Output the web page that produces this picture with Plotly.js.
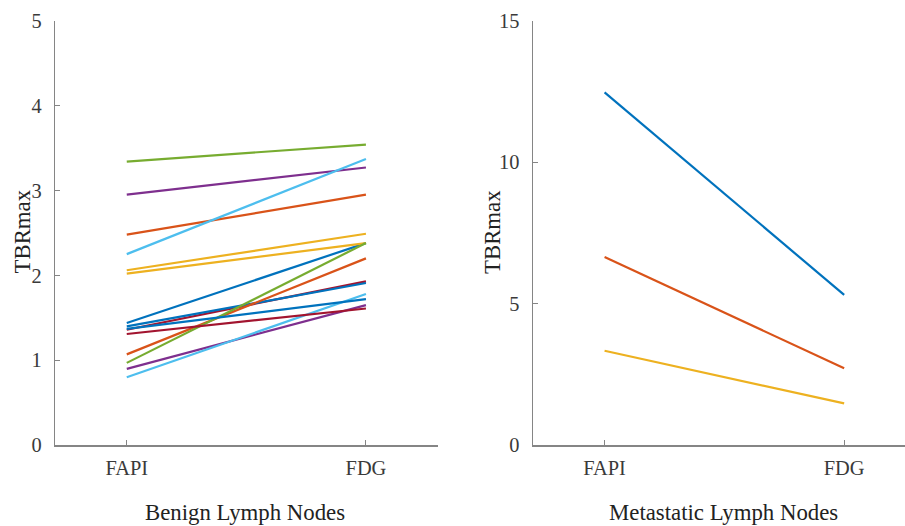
<!DOCTYPE html>
<html>
<head>
<meta charset="utf-8">
<script src="https://cdn.plot.ly/plotly-3.0.1.min.js"></script>
<style>
html,body{margin:0;padding:0;background:#fff;overflow:hidden;}
#chart{width:905px;height:526px;}
</style>
</head>
<body>
<div id="chart"></div>
<script>
const categories = ['FAPI', 'FDG'];
const categoryPos = [1, 2];

// Benign lymph nodes (15 pairs), in plotting order
const benignFAPI = [1.44, 2.48, 2.06, 2.95, 3.34, 2.25, 1.36, 1.40, 1.07, 2.02, 0.90, 0.97, 0.80, 1.31, 1.37];
const benignFDG  = [2.38, 2.95, 2.49, 3.27, 3.54, 3.37, 1.93, 1.91, 2.20, 2.38, 1.65, 2.38, 1.78, 1.61, 1.72];

// Metastatic lymph nodes (3 pairs)
const metFAPI = [12.46, 6.65, 3.34];
const metFDG  = [5.31, 2.72, 1.48];

const benignTicks = [0, 1, 2, 3, 4, 5];
const metTicks = [0, 5, 10, 15];

const yTitle = 'TBRmax';
const panelTitles = ['Benign Lymph Nodes', 'Metastatic Lymph Nodes'];

const palette = ['#0072BD', '#D95319', '#EDB120', '#7E2F8E', '#77AC30', '#4DBEEE', '#A2142F'];

const traces = [];
benignFAPI.forEach((v, i) => {
  traces.push({
    x: categoryPos, y: [v, benignFDG[i]], type: 'scatter', mode: 'lines',
    line: {color: palette[i % palette.length], width: 2.2},
    xaxis: 'x', yaxis: 'y', showlegend: false, hoverinfo: 'skip'
  });
});
metFAPI.forEach((v, i) => {
  traces.push({
    x: categoryPos, y: [v, metFDG[i]], type: 'scatter', mode: 'lines',
    line: {color: palette[i % palette.length], width: 2.2},
    xaxis: 'x2', yaxis: 'y2', showlegend: false, hoverinfo: 'skip'
  });
});

const fontFam = '"Liberation Serif", "Times New Roman", serif';
const axisCol = '#858585';
const tickFont = {family: fontFam, size: 20.4, color: '#3a3a3a'};
const titleFont = {family: fontFam, size: 22.8, color: '#222'};

function xax(domain, range) {
  return {
    domain: domain, range: range, tickmode: 'array', tickvals: categoryPos, ticktext: categories,
    showline: true, linecolor: axisCol, linewidth: 1.2, ticks: 'inside', ticklen: 5, tickcolor: axisCol,
    showgrid: false, zeroline: false, tickfont: tickFont, ticklabelstandoff: 4, fixedrange: true
  };
}
function yax(range, ticks, anchor) {
  return {
    domain: [80.7/526, 505.5/526], range: range, tickmode: 'array', tickvals: ticks,
    showline: true, linecolor: axisCol, linewidth: 1.2, ticks: 'inside', ticklen: 5, tickcolor: axisCol,
    showgrid: false, zeroline: false, tickfont: tickFont, ticklabelstandoff: 8,
    anchor: anchor, fixedrange: true
  };
}

const yMid = (526 - 232) / 526;
const annotations = [
  {text: yTitle, x: 21.5/905, y: yMid, textangle: -90},
  {text: yTitle, x: 492/905, y: yMid, textangle: -90},
  {text: panelTitles[0], x: 245/905, y: (526 - 512)/526},
  {text: panelTitles[1], x: 723/905, y: (526 - 512)/526}
].map(a => Object.assign({xref: 'paper', yref: 'paper', showarrow: false, xanchor: 'center', yanchor: 'middle', font: titleFont}, a));

const layout = {
  width: 905, height: 526,
  margin: {l: 0, r: 0, t: 0, b: 0},
  paper_bgcolor: '#fff', plot_bgcolor: '#fff',
  xaxis: Object.assign(xax([55/905, 437.7/905], [0.7, 2.3]), {anchor: 'y'}),
  yaxis: yax([0, 5], benignTicks, 'x'),
  xaxis2: Object.assign(xax([532.7/905, 1], [0.7, 2.254]), {anchor: 'y2'}),
  yaxis2: yax([0, 15], metTicks, 'x2'),
  annotations: annotations,
  showlegend: false
};

Plotly.newPlot('chart', traces, layout, {displayModeBar: false, staticPlot: true});
</script>
</body>
</html>
